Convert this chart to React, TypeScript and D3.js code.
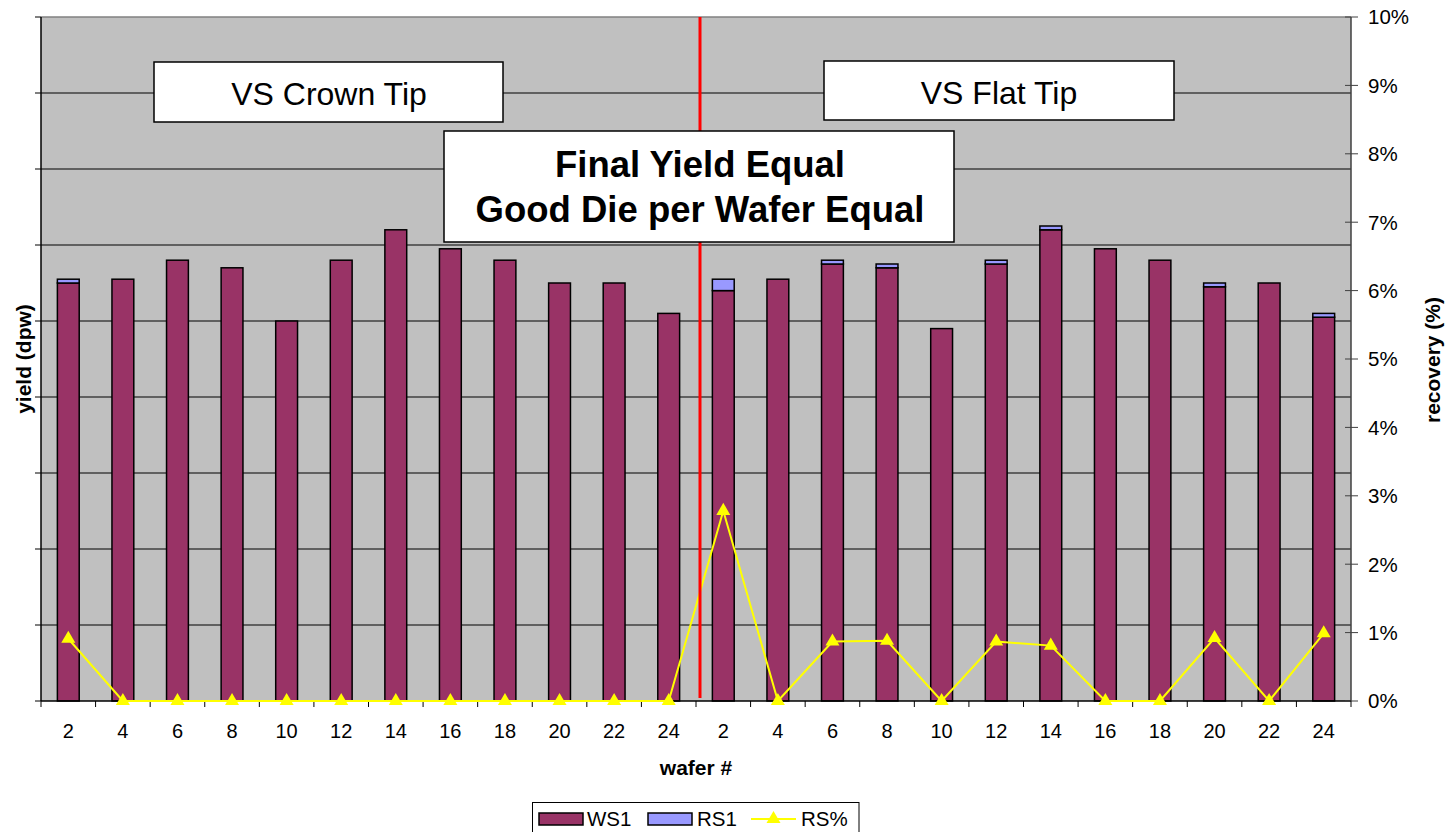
import React from "react";
import * as d3 from "d3";

const categories = ["2","4","6","8","10","12","14","16","18","20","22","24","2","4","6","8","10","12","14","16","18","20","22","24"];
const ws1 = [110,111,116,114,100,116,124,119,116,110,110,102, 108,111,115,114,98,115,124,119,116,109,110,101];
const rs1 = [1,0,0,0,0,0,0,0,0,0,0,0, 3,0,1,1,0,1,1,0,0,1,0,1];
const rsPct = [0.91,0,0,0,0,0,0,0,0,0,0,0, 2.78,0,0.87,0.88,0,0.87,0.81,0,0,0.92,0,0.99];
const leftTicks = [0,20,40,60,80,100,120,140,160,180];
const rightTicks = [0,1,2,3,4,5,6,7,8,9,10];

const W = 1456, H = 832;
const PL = 41, PR = 1351, PT = 17, PB = 701;
const FONT = "'Liberation Sans', Arial, sans-serif";

export default function App() {
  const idx = categories.map((_, i) => i);
  const x = d3.scaleBand<number>().domain(idx).range([PL, PR]).paddingInner(0.6).paddingOuter(0.3);
  const step = x.step();
  const yL = d3.scaleLinear().domain([0, 180]).range([PB, PT]);
  const yR = d3.scaleLinear().domain([0, 10]).range([PB, PT]);
  const line = d3.line<number>().x((_, i) => (x(i) as number) + x.bandwidth() / 2).y((d) => yR(d));
  const tri = d3.symbol().type(d3.symbolTriangle).size(85)() as string;
  const redX = PL + step * 12 + 4;

  return (
    <svg width={W} height={H} style={{ position: "absolute", left: 0, top: 0, display: "block" }} fontFamily={FONT}>
      <rect x={0} y={0} width={W} height={H} fill="#fff" />
      <rect x={PL} y={PT} width={PR - PL} height={PB - PT} fill="#C0C0C0" />
      {leftTicks.slice(1, -1).map((t) => (
        <line key={t} x1={PL} x2={PR} y1={yL(t)} y2={yL(t)} stroke="#000" strokeWidth={1} />
      ))}
      <line x1={PL} x2={PR} y1={PT} y2={PT} stroke="#808080" strokeWidth={1.5} />
      {idx.map((i) => {
        const bx = x(i) as number;
        const bw = x.bandwidth();
        return (
          <g key={i}>
            <rect x={bx} y={yL(ws1[i])} width={bw} height={yL(0) - yL(ws1[i])} fill="#993366" stroke="#000" strokeWidth={1.5} />
            {rs1[i] > 0 && (
              <rect x={bx} y={yL(ws1[i] + rs1[i])} width={bw} height={yL(ws1[i]) - yL(ws1[i] + rs1[i])} fill="#9999FF" stroke="#000" strokeWidth={1.5} />
            )}
          </g>
        );
      })}
      <line x1={PL} x2={PL} y1={PT} y2={PB} stroke="#000" strokeWidth={1.5} />
      <line x1={PR} x2={PR} y1={PT} y2={PB} stroke="#404040" strokeWidth={1.5} />
      <line x1={PL} x2={PR} y1={PB} y2={PB} stroke="#000" strokeWidth={1.5} />
      {leftTicks.map((t) => (
        <line key={t} x1={PL - 6} x2={PL} y1={yL(t)} y2={yL(t)} stroke="#000" strokeWidth={1} />
      ))}
      {rightTicks.map((t) => (
        <g key={t}>
          <line x1={PR - 6} x2={PR + 7} y1={yR(t)} y2={yR(t)} stroke="#404040" strokeWidth={1} />
          <text x={PR + 17} y={yR(t)} dy="0.36em" fontSize={20.5} fill="#000">{t}%</text>
        </g>
      ))}
      {d3.range(categories.length + 1).map((k) => (
        <line key={k} x1={PL + k * step} x2={PL + k * step} y1={PB} y2={PB + 6} stroke="#000" strokeWidth={1} />
      ))}
      {categories.map((c, i) => (
        <text key={i} x={(x(i) as number) + x.bandwidth() / 2} y={738} textAnchor="middle" fontSize={20} fill="#000">{c}</text>
      ))}
      <path d={line(rsPct) as string} fill="none" stroke="#FFFF00" strokeWidth={2} />
      {rsPct.map((v, i) => (
        <path key={i} d={tri} transform={`translate(${(x(i) as number) + x.bandwidth() / 2},${yR(v)})`} fill="#FFFF00" />
      ))}
      <line x1={redX} x2={redX} y1={PT} y2={698} stroke="#FF0000" strokeWidth={3} />
      <rect x={154} y={62} width={349} height={60} fill="#fff" stroke="#000" strokeWidth={1.5} />
      <text x={329} y={105} textAnchor="middle" fontSize={32} fill="#000">VS Crown Tip</text>
      <rect x={824} y={61} width={350} height={59} fill="#fff" stroke="#000" strokeWidth={1.5} />
      <text x={999} y={104} textAnchor="middle" fontSize={32} fill="#000">VS Flat Tip</text>
      <rect x={444} y={131} width={510} height={111} fill="#fff" stroke="#000" strokeWidth={1.5} />
      <text x={700} y={177} textAnchor="middle" fontSize={36.5} fontWeight="bold" fill="#000">Final Yield Equal</text>
      <text x={700} y={222} textAnchor="middle" fontSize={36.5} fontWeight="bold" fill="#000">Good Die per Wafer Equal</text>
      <text transform="translate(31,359) rotate(-90)" textAnchor="middle" fontSize={21} fontWeight="bold" fill="#000">yield (dpw)</text>
      <text transform="translate(1440,360) rotate(-90)" textAnchor="middle" fontSize={21} fontWeight="bold" fill="#000">recovery (%)</text>
      <text x={696} y={775} textAnchor="middle" fontSize={21} fontWeight="bold" fill="#000">wafer #</text>
      <rect x={532.5} y={802.5} width={326.5} height={50} fill="#fff" stroke="#000" strokeWidth={1} />
      <rect x={539} y={813} width={44} height={12} fill="#993366" stroke="#000" strokeWidth={1.5} />
      <text x={587} y={826} fontSize={20.5} fill="#000">WS1</text>
      <rect x={648} y={813} width={44} height={12} fill="#9999FF" stroke="#000" strokeWidth={1.5} />
      <text x={697} y={826} fontSize={20.5} fill="#000">RS1</text>
      <line x1={751} x2={796} y1={819} y2={819} stroke="#FFFF00" strokeWidth={2} />
      <path d={tri} transform="translate(773.5,819)" fill="#FFFF00" />
      <text x={801} y={826} fontSize={20.5} fill="#000">RS%</text>
    </svg>
  );
}
